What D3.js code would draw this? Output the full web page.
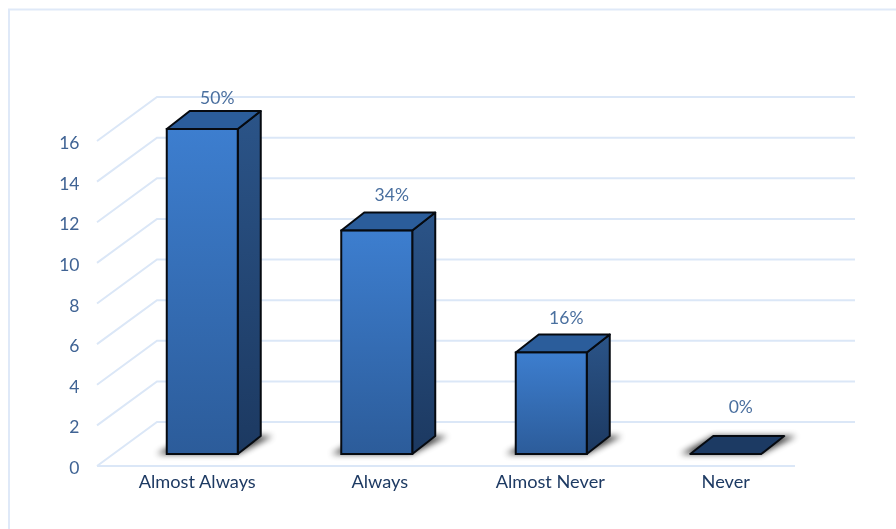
<!DOCTYPE html>
<html><head><meta charset="utf-8">
<script src="https://cdn.jsdelivr.net/npm/d3@7"></script>
<style>html,body{margin:0;padding:0;background:#fff;overflow:hidden}svg{display:block}
text{font-family:Lato,"Open Sans",sans-serif}</style></head><body>
<script>
const categories = ["Almost Always","Always","Almost Never","Never"];
const counts = [16,11,5,0];
const percents = ["50%","34%","16%","0%"];
const tickValues = [0,2,4,6,8,10,12,14,16];

(function(){
const W=896,H=529;
const svg=d3.select("body").append("svg").attr("width",W).attr("height",H);
const defs=svg.append("defs");
function grad(id,a,b){const g=defs.append("linearGradient").attr("id",id).attr("x1",0).attr("y1",0).attr("x2",0).attr("y2",1);
 g.append("stop").attr("offset",0).attr("stop-color",a);g.append("stop").attr("offset",1).attr("stop-color",b);}
grad("front","#3d7ecf","#2c5c9a");grad("side","#2b5488","#1c3961");
defs.append("filter").attr("id","blur").attr("x","-30%").attr("y","-60%").attr("width","160%").attr("height","220%")
 .append("feGaussianBlur").attr("stdDeviation",3.2);
defs.append("filter").attr("id","soft").append("feGaussianBlur").attr("stdDeviation",0.4);

// scales
const x=d3.scaleBand().domain(categories).range([97,795]);
const y=d3.scaleLinear().domain([0,16]).range([466,141]);
const dx=60,dy=-44;              // wall depth
const bdx=23,bdy=-18;            // bar depth
const barW=71,barShift=18,baseLift=12;
const gridC="#dbe7f7";
const catNudge=[-5,3,-1,0], pctLift=[25,30,28,41];

// frame
svg.append("path").attr("d",`M9,${H}V9.5H${W}`).attr("fill","none").attr("stroke","#dfe9f8").attr("stroke-width",2);

// gridlines
const grid=svg.append("g").attr("fill","none").attr("stroke",gridC).attr("stroke-width",2);
tickValues.forEach(t=>{
 grid.append("path").attr("d",`M${x.range()[0]},${y(t)}l${dx},${dy}H${x.range()[1]+dx}`);
});
grid.append("path").attr("d",`M${x.range()[0]},${y(0)}H${x.range()[1]}`);

// axes
const yAxis=d3.axisLeft(y).tickValues(tickValues).tickSize(0).tickPadding(0);
const gy=svg.append("g").attr("transform","translate(79.5,2)").call(yAxis);
gy.select(".domain").remove();
gy.selectAll("text").attr("font-size",17.5).attr("fill","#3f6394").attr("filter","url(#soft)").style("font-family","Lato");

const xAxis=d3.axisBottom(x).tickSize(0).tickPadding(0);
const gx=svg.append("g").attr("transform","translate(0,475)").call(xAxis);
gx.select(".domain").remove();
gx.selectAll("text").attr("font-size",18.2).attr("fill","#1f3a63").attr("filter","url(#soft)").style("font-family","Lato")
 .attr("dx",(d,i)=>barShift+catNudge[i]);

// bars
const bars=svg.selectAll("g.bar").data(categories.map((c,i)=>({c,v:counts[i],p:percents[i],i}))).join("g").attr("class","bar");
const base=y(0)-baseLift;
const left=d=>x(d.c)+x.bandwidth()/2+barShift-barW/2;
const topY=d=>base-(y(0)-y(d.v));

bars.append("path").attr("filter","url(#blur)").attr("fill","#000").attr("opacity",.75)
 .attr("d",d=>{const l=left(d),r=l+barW;return `M${l-10},${base}L${r},${base}L${r+bdx+12},${base+bdy}L${l+bdx},${base+bdy}Z`;});

bars.filter(d=>d.v>0).append("path").attr("fill","url(#side)").attr("stroke","#060a10").attr("stroke-width",2).attr("stroke-linejoin","round")
 .attr("d",d=>{const r=left(d)+barW;return `M${r},${topY(d)}l${bdx},${bdy}V${base+bdy}L${r},${base}Z`;});
bars.append("path").attr("fill",d=>d.v>0?"#2b5d9b":"#1c3a63").attr("stroke","#060a10").attr("stroke-width",2).attr("stroke-linejoin","round")
 .attr("d",d=>{const l=left(d);return `M${l},${topY(d)}h${barW}l${bdx},${bdy}h${-barW}Z`;});
bars.filter(d=>d.v>0).append("rect").attr("fill","url(#front)").attr("stroke","#060a10").attr("stroke-width",2)
 .attr("x",left).attr("y",topY).attr("width",barW).attr("height",d=>base-topY(d));

bars.append("text").attr("text-anchor","middle").attr("font-size",17.5).attr("fill","#4a6f9f").attr("filter","url(#soft)")
 .attr("x",d=>left(d)+barW/2+15).attr("y",d=>topY(d)-pctLift[d.i]).text(d=>d.p);
})();
</script></body></html>
